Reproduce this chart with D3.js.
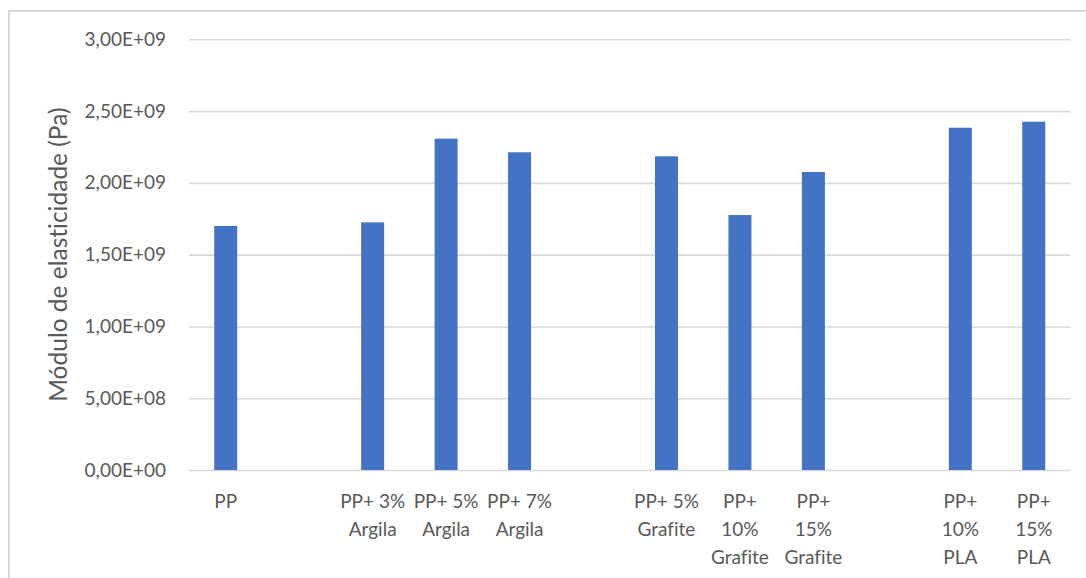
<!DOCTYPE html>
<html>
<head>
<meta charset="utf-8">
<script src="https://cdn.jsdelivr.net/npm/d3@7"></script>
<style>
  html, body { margin: 0; padding: 0; background: #fff; }
  svg { display: block; }
  text { font-family: Lato, "Open Sans", sans-serif; fill: #595959; font-variant-ligatures: none; }
</style>
</head>
<body>
<svg id="chart" width="1086" height="578"></svg>
<script>
// Young's modulus per composite (Pa); empty slots separate the filler groups
const categories = [
  "PP", "",
  "PP+ 3% Argila", "PP+ 5% Argila", "PP+ 7% Argila", "",
  "PP+ 5% Grafite", "PP+ 10% Grafite", "PP+ 15% Grafite", "",
  "PP+ 10% PLA", "PP+ 15% PLA"
];
const values = [
  1.70e9, null,
  1.725e9, 2.308e9, 2.213e9, null,
  2.185e9, 1.776e9, 2.076e9, null,
  2.384e9, 2.426e9
];
// category labels as they wrap under each bar
const tickLabels = [
  ["PP"], [],
  ["PP+ 3%", "Argila"], ["PP+ 5%", "Argila"], ["PP+ 7%", "Argila"], [],
  ["PP+ 5%", "Grafite"], ["PP+", "10%", "Grafite"], ["PP+", "15%", "Grafite"], [],
  ["PP+", "10%", "PLA"], ["PP+", "15%", "PLA"]
];
const yTicks = [0, 5e8, 1e9, 1.5e9, 2e9, 2.5e9, 3e9];
const yTickLabels = ["0,00E+00", "5,00E+08", "1,00E+09", "1,50E+09", "2,00E+09", "2,50E+09", "3,00E+09"];
const yTitle = "Módulo de elasticidade (Pa)";

const svg = d3.select("#chart");
const plot = { left: 189, right: 1070.5, top: 39.3, bottom: 470 };

// chart frame (left and top edges visible within the canvas)
svg.append("rect")
  .attr("x", 9).attr("y", 11)
  .attr("width", 1100).attr("height", 600)
  .attr("fill", "none")
  .attr("stroke", "#d9d9d9")
  .attr("stroke-width", 2);

const idx = categories.map((_, i) => i);
const x = d3.scaleBand()
  .domain(idx)
  .range([plot.left, plot.right])
  .paddingInner(0.687)
  .paddingOuter(0.687 / 2);

const y = d3.scaleLinear()
  .domain([0, 3e9])
  .range([plot.bottom, plot.top]);

// horizontal gridlines
const yAxis = d3.axisLeft(y)
  .tickValues(yTicks)
  .tickSize(-(plot.right - plot.left))
  .tickPadding(23)
  .tickFormat((d, i) => yTickLabels[i]);

const gy = svg.append("g")
  .attr("transform", `translate(${plot.left},0)`)
  .call(yAxis);
gy.select(".domain").remove();
gy.selectAll(".tick line")
  .attr("stroke", "#d9d9d9")
  .attr("stroke-width", 1.6);
gy.selectAll(".tick text")
  .style("font-size", "19px")
  .attr("fill", "#595959");

// bars
svg.append("g")
  .selectAll("rect")
  .data(idx.filter(i => values[i] != null))
  .join("rect")
  .attr("x", i => x(i))
  .attr("width", x.bandwidth())
  .attr("y", i => y(values[i]))
  .attr("height", i => y(0) - y(values[i]))
  .attr("fill", "#4472C4");

// category labels, wrapped onto several lines
const xAxis = d3.axisBottom(x)
  .tickSize(0)
  .tickFormat(() => "");
const gx = svg.append("g")
  .attr("transform", `translate(0,${plot.bottom})`)
  .call(xAxis);
gx.select(".domain").remove();
gx.selectAll(".tick").each(function(i) {
  const t = d3.select(this).select("text")
    .attr("y", 0).attr("dy", null)
    .style("font-size", "19px")
    .attr("text-anchor", "middle");
  tickLabels[i].forEach((line, k) => {
    t.append("tspan")
      .attr("x", 0)
      .attr("y", 37.8 + k * 28.3)
      .text(line);
  });
});

// y-axis title
svg.append("text")
  .attr("transform", `translate(67,${(plot.top + plot.bottom) / 2}) rotate(-90)`)
  .attr("text-anchor", "middle")
  .style("font-size", "24.5px")
  .text(yTitle);
</script>
</body>
</html>
